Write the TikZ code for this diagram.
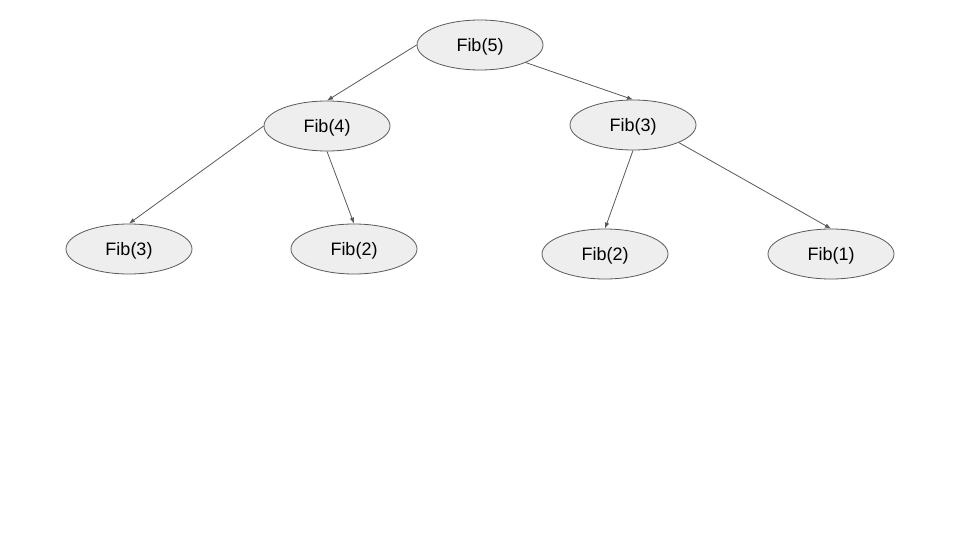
\documentclass[tikz,border=0pt]{standalone}
\usepackage{fontspec}
\setmainfont{Liberation Sans}
\usetikzlibrary{arrows.meta,shapes.geometric}
\definecolor{callfill}{HTML}{EEEEEE}
\definecolor{callline}{HTML}{595959}
\tikzstyle{call}=[ellipse, draw=callline, fill=callfill, line width=0.8pt,
    inner sep=0pt, minimum width=126pt, minimum height=50pt, text depth=0pt,
    font=\fontsize{18}{21}\selectfont]
\newcommand{\call}{\node[call]}
\begin{document}
\begin{tikzpicture}[x=1pt, y=-1pt
    ,every edge/.style={draw=callline, line width=0.8pt,
        -{Latex[length=6pt,width=4.5pt]}}
]
\useasboundingbox (0,0) rectangle (960,540);
\call (f5)  at (480,45)  {Fib(5)};
\call (f4)  at (327,126) {Fib(4)};
\call (f3r) at (633,125) {Fib(3)};
\call (f3l) at (129,249) {Fib(3)};
\call (f2l) at (354,249) {Fib(2)};
\call (f2r) at (605,254) {Fib(2)};
\call (f1)  at (831,254) {Fib(1)};
\path
(f5.west) edge (f4.north)
(f5.-21)  edge (f3r.north)
(f4.west) edge (f3l.north)
(f4.south) edge (f2l.north)
(f3r.south) edge (f2r.north)
(f3r.-21)  edge (f1.north)
;
\end{tikzpicture}
\end{document}
